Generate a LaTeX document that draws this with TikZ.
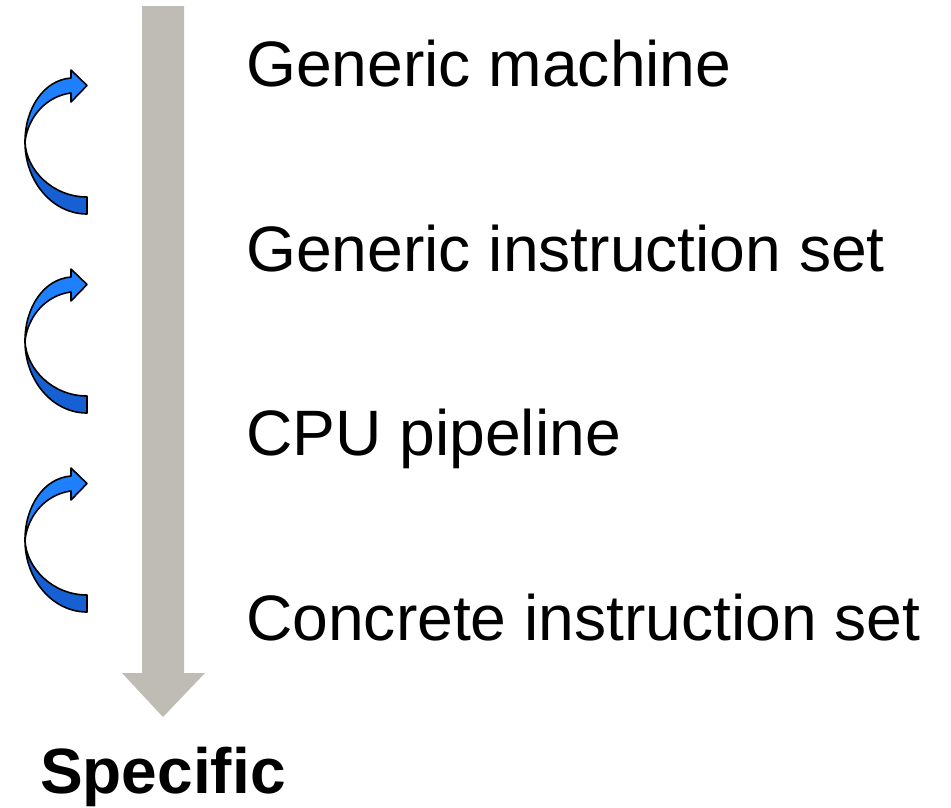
\documentclass[tikz,border=0pt]{standalone}
\usepackage{fontspec}
\setmainfont{Liberation Sans}
\definecolor{shaftgray}{RGB}{191,188,181}
\definecolor{bandfront}{RGB}{30,128,255}
\definecolor{bandback}{RGB}{22,96,212}
\begin{document}
\begin{tikzpicture}[x=1pt,y=-1pt,
  leveltext/.style={anchor=base west,inner sep=0pt,font=\fontsize{64.2}{70}\selectfont},
  headline/.style={anchor=base west,inner sep=0pt,font=\fontsize{64}{70}\selectfont\bfseries},
  bandlight/.style={fill=bandfront,draw=black,line width=1.6pt,line join=round},
  banddark/.style={fill=bandback,draw=black,line width=1.6pt,line join=round}]
\useasboundingbox (0,0) rectangle (951,807);

% big downward arrow
\fill[shaftgray]
  (142,6) -- (184,6) -- (184,673) -- (205,673) -- (163,717) -- (122,673) -- (142,673) -- cycle;

% curved step arrows on the left
\foreach \dy in {0,199,398}{
  \begin{scope}[shift={(0,\dy)}]
    % lower (back) part of the band
    \path[banddark] (87,197) -- (87,214)
      .. controls (52.8,214) and (25,181.8) .. (25,142)
      .. controls (26,170) and (52.8,197) .. (87,197) -- cycle;
    % upper (front) part of the band with its head
    \path[bandlight] (25,142)
      .. controls (25,108) and (44,80) .. (71,78)
      -- (71,70) -- (87,85.5) -- (71,102) -- (71,93)
      .. controls (47,96) and (28,116) .. (25,142) -- cycle;
  \end{scope}
}

% levels
\node[leveltext] (l1) at (246,86) {Generic machine};
\node[leveltext] (l2) at (246,271) {Generic instruction set};
\node[leveltext] (l3) at (246,455) {CPU pipeline};
\node[leveltext] (l4) at (246,640) {Concrete instruction set};
\node[headline] (sp) at (40,793) {Specific};
\end{tikzpicture}
\end{document}
